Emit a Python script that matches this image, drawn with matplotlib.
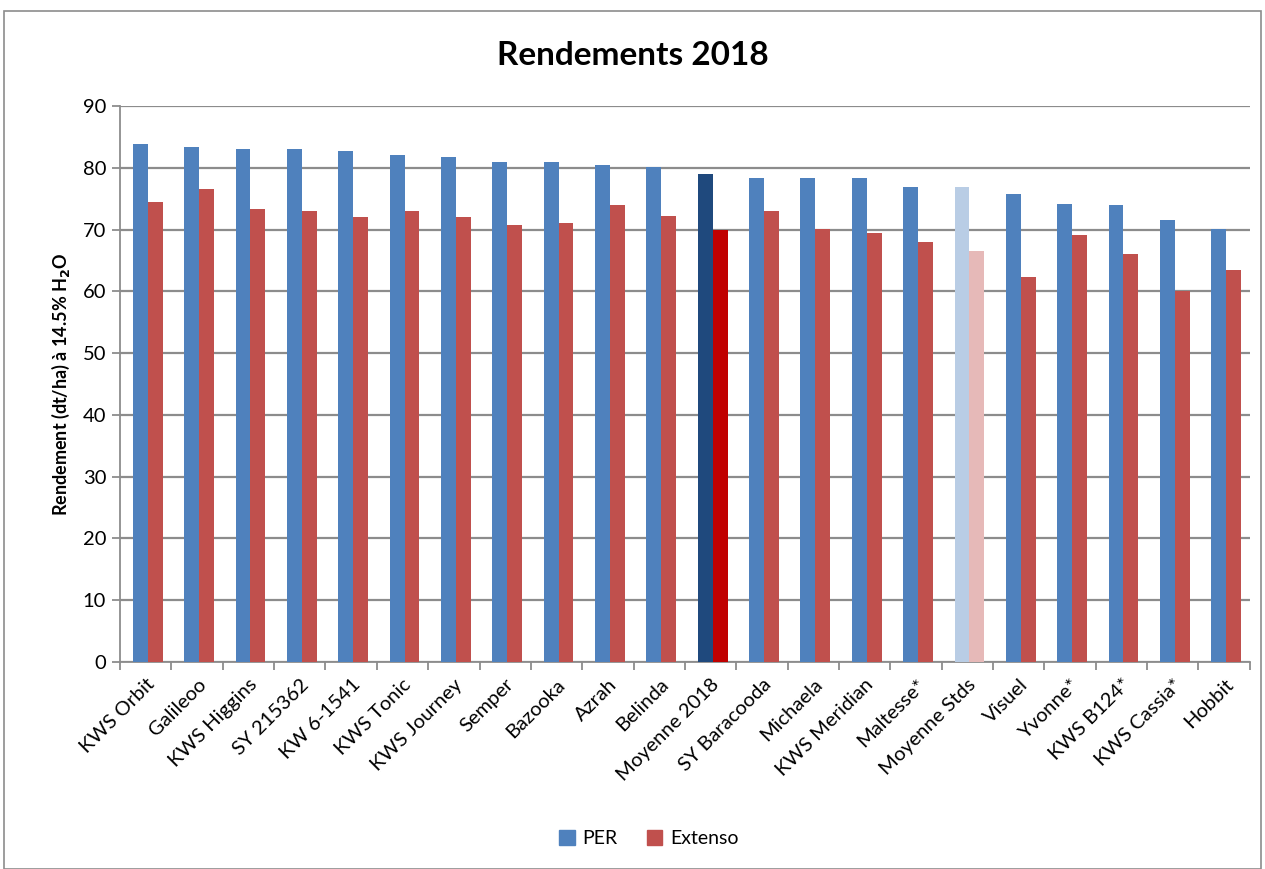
import matplotlib
matplotlib.use("Agg")
import matplotlib.pyplot as plt
import numpy as np
from matplotlib.patches import Rectangle, Patch

categories = ["KWS Orbit", "Galileoo", "KWS Higgins", "SY 215362", "KW 6-1541", "KWS Tonic",
              "KWS Journey", "Semper", "Bazooka", "Azrah", "Belinda", "Moyenne 2018",
              "SY Baracooda", "Michaela", "KWS Meridian", "Maltesse*", "Moyenne Stds",
              "Visuel", "Yvonne*", "KWS B124*", "KWS Cassia*", "Hobbit"]
per = [83.9, 83.3, 83.0, 83.0, 82.7, 82.1, 81.8, 81.0, 81.0, 80.4, 80.1, 79.0,
       78.4, 78.4, 78.4, 76.9, 76.9, 75.7, 74.2, 73.9, 71.5, 70.1]
extenso = [74.5, 76.6, 73.3, 73.0, 72.1, 73.0, 72.1, 70.7, 71.0, 73.9, 72.2, 70.0,
           73.0, 70.1, 69.5, 68.0, 66.6, 62.4, 69.2, 66.1, 60.1, 63.5]
yticks = [0, 10, 20, 30, 40, 50, 60, 70, 80, 90]

blue = "#4F81BD"; red = "#C0504D"
per_colors = [blue] * len(categories)
ext_colors = [red] * len(categories)
i = categories.index("Moyenne 2018"); per_colors[i] = "#1F497D"; ext_colors[i] = "#C00000"
j = categories.index("Moyenne Stds"); per_colors[j] = "#B9CDE5"; ext_colors[j] = "#E6B9B8"

plt.rcParams['font.family'] = ['Lato', 'DejaVu Sans']
fig = plt.figure(figsize=(12.65, 8.69), dpi=100)
ax = fig.add_axes([0.0949, 0.2382, 0.8931, 0.6398])

x = np.arange(len(categories))
w = 0.29
ax.bar(x - w/2 + 0.04, per, width=w, color=per_colors, zorder=3)
ax.bar(x + w/2 + 0.04, extenso, width=w, color=ext_colors, zorder=3)

ax.set_xlim(-0.5, len(categories) - 0.5)
ax.set_ylim(0, 90)
ax.set_yticks(yticks)
ax.set_yticklabels([str(v) for v in yticks], fontsize=14.5)
ax.yaxis.grid(True, color="#8C8C8C", linewidth=1.6, zorder=0)
ax.set_axisbelow(True)
for s in ["top", "right"]:
    ax.spines[s].set_visible(False)
for s in ["left", "bottom"]:
    ax.spines[s].set_color("#8C8C8C")
    ax.spines[s].set_linewidth(1.3)
ax.tick_params(axis="y", length=6, color="#8C8C8C", width=1.3, pad=4)
ax.set_xticks(np.arange(-0.5, len(categories), 1.0), minor=False)
ax.set_xticklabels([])
ax.set_xticks(x, minor=True)
ax.set_xticklabels(categories, minor=True, rotation=45, ha="right", rotation_mode="anchor", fontsize=14.5)
ax.tick_params(axis="x", which="major", length=6, color="#8C8C8C", width=1.3)
ax.tick_params(axis="x", which="minor", length=0, pad=10)

ax.set_ylabel("Rendement (dt/ha) à 14.5% H$_\\mathbf{2}$O", fontsize=13, fontweight="bold", labelpad=8)
fig.text(0.5, 0.936, "Rendements 2018", ha="center", va="center", fontsize=24, fontweight="bold")

handles = [Patch(color=blue, label="PER"), Patch(color=red, label="Extenso")]
fig.legend(handles=handles, loc="center", bbox_to_anchor=(0.513, 0.035), ncol=2, frameon=False,
           fontsize=14, handlelength=0.8, handleheight=0.8, columnspacing=1.5, handletextpad=0.4)

fig.patches.append(Rectangle((0.003, 0.0), 0.994, 0.987, transform=fig.transFigure,
                             fill=False, edgecolor="#8C8C8C", linewidth=1.2))
fig.savefig("out.png", dpi=100)
